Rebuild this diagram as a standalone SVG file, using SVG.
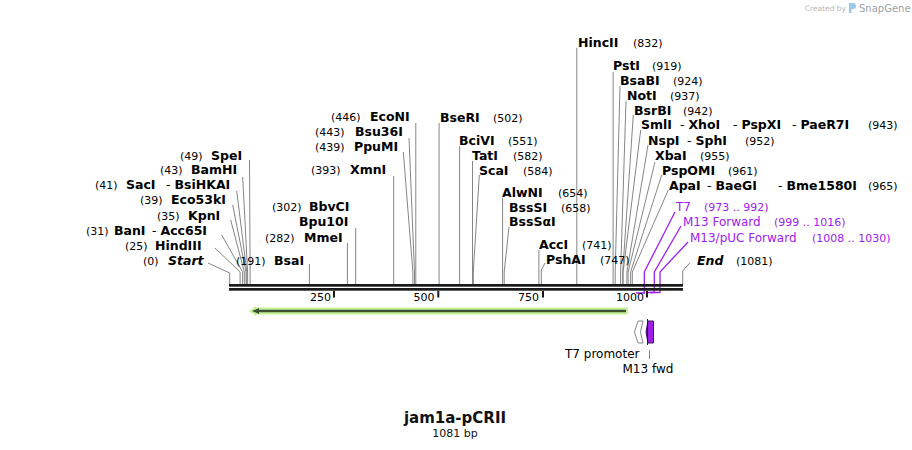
<svg xmlns="http://www.w3.org/2000/svg" width="912" height="450" viewBox="0 0 912 450">
<style>
text{font-family:"DejaVu Sans","Verdana",sans-serif;}
.n{font-size:12.5px;font-weight:bold;fill:#000;}
.h{font-weight:normal;}
.i{font-style:italic;}
.p{font-size:11px;fill:#000;}
.pu{font-size:12px;fill:#a020f0;}
.pn{font-size:11px;fill:#a020f0;}
.c{fill:none;stroke:#858585;stroke-width:1;}
.cp{fill:none;stroke:#a020f0;stroke-width:1.3;}
.t{font-size:11px;fill:#000;text-anchor:end;}
.f{font-size:12px;fill:#000;}
</style>
<rect width="912" height="450" fill="#fff"/>

<g id="connectors">
<polyline class="c" points="249.5,160 250.1,272 250.1,285"/>
<polyline class="c" points="242.7,177 247.6,272 247.6,285"/>
<polyline class="c" points="236.7,191 246.8,272 246.8,285"/>
<polyline class="c" points="232.7,205 246,272 246,285"/>
<polyline class="c" points="230.7,220 244.3,272 244.3,285"/>
<polyline class="c" points="221.7,235 242.6,272 242.6,285"/>
<polyline class="c" points="215,248 240.1,272 240.1,285"/>
<polyline class="c" points="208,263 229.7,273 229.7,285"/>
<polyline class="c" points="309.4,264 309.4,285"/>
<polyline class="c" points="347.4,243 347.4,285"/>
<polyline class="c" points="355.7,228 355.7,285"/>
<polyline class="c" points="393.7,176 393.7,285"/>
<polyline class="c" points="403.3,152 412.9,272 412.9,285"/>
<polyline class="c" points="409,138 414.5,272 414.5,285"/>
<polyline class="c" points="415.8,123 415.8,285"/>
<polyline class="c" points="439.1,123 439.1,285"/>
<polyline class="c" points="459.6,146 459.6,285"/>
<polyline class="c" points="472.5,161 472.5,285"/>
<polyline class="c" points="479.3,175 473.3,272 473.3,285"/>
<polyline class="c" points="502.6,198 502.6,285"/>
<polyline class="c" points="509,227 504.2,272 504.2,285"/>
<polyline class="c" points="538.9,250 538.9,285"/>
<polyline class="c" points="545,263 541.3,270 541.3,285"/>
<polyline class="c" points="576.8,48 576.8,285"/>
<polyline class="c" points="613.1,72 613.1,285"/>
<polyline class="c" points="620,86 615.2,272 615.2,285"/>
<polyline class="c" points="626,101 620.6,272 620.6,285"/>
<polyline class="c" points="633.3,115 622.7,272 622.7,285"/>
<polyline class="c" points="640.7,130 623.1,272 623.1,285"/>
<polyline class="c" points="648,145 626.9,272 626.9,285"/>
<polyline class="c" points="655,162 628.1,272 628.1,285"/>
<polyline class="c" points="661.7,175 630.6,272 630.6,285"/>
<polyline class="c" points="668.3,190 632.3,272 632.3,285"/>
<polyline class="c" points="690,262.7 682.7,271 682.7,285"/>
<polyline class="cp" points="675,212 644.3,272 644.3,293 636,293"/>
<polyline class="cp" points="681,226 654.3,272 654.3,292.5 647.5,292.5"/>
<polyline class="cp" points="688,242 660,272 660,292.5 650,292.5"/>
<line class="c" x1="649.5" y1="350" x2="649.5" y2="359"/>
</g>

<g id="sequence">
<rect x="229" y="284" width="454" height="2.7" fill="#1a1a1a"/>
<rect x="229" y="288" width="454" height="2.7" fill="#1a1a1a"/>
<rect x="333" y="291" width="2" height="6.5" fill="#1a1a1a"/>
<rect x="437.3" y="291" width="2" height="6.5" fill="#1a1a1a"/>
<rect x="542" y="291" width="2" height="6.5" fill="#1a1a1a"/>
<rect x="646" y="291" width="2" height="6.5" fill="#1a1a1a"/>
<text class="t" x="331" y="301">250</text>
<text class="t" x="434.5" y="301">500</text>
<text class="t" x="539" y="301">750</text>
<text class="t" x="644" y="301">1000</text>
</g>

<g id="orf">
<polygon points="249,311 256,306 256,307.5 628,307.5 628,314.5 256,314.5 256,316" fill="#c3f396"/>
<line x1="256" y1="311" x2="626" y2="311" stroke="#3f4f33" stroke-width="2.5"/>
<polygon points="252,311 259,308 259,314" fill="#3f4f33"/>
</g>

<g id="t7promoter">
<polygon points="634.5,332 638,321 643,321 640.5,332 643,343 638,343" fill="#fff" stroke="#8a8a8a" stroke-width="1"/>
<text class="f" x="565" y="357.5">T7 promoter</text>
</g>
<g id="m13fwd">
<polygon points="648,321 653.5,321 653.5,343 648,343 646,332" fill="#9b1fe8" stroke="#3a1060" stroke-width="1"/>
<line x1="647.5" y1="319" x2="647.5" y2="345" stroke="#222" stroke-width="1"/>
<text class="f" x="622.5" y="372.5">M13 fwd</text>
</g>

<g id="SpeI"><text class="p" x="180" y="159.5">(49)</text><text class="n" x="211" y="159.5">SpeI</text></g>
<g id="BamHI"><text class="p" x="160" y="174">(43)</text><text class="n" x="191" y="174">BamHI</text></g>
<g id="SacI"><text class="p" x="95" y="189">(41)</text><text class="n" x="126" y="189">SacI</text><text class="n" x="166" y="189"><tspan class="h">- </tspan>BsiHKAI</text></g>
<g id="Eco53kI"><text class="p" x="140" y="204">(39)</text><text class="n" x="171" y="204">Eco53kI</text></g>
<g id="KpnI"><text class="p" x="157" y="219.5">(35)</text><text class="n" x="188" y="219.5">KpnI</text></g>
<g id="BanI"><text class="p" x="86" y="234.5">(31)</text><text class="n" x="114" y="234.5">BanI</text><text class="n" x="152" y="234.5"><tspan class="h">- </tspan>Acc65I</text></g>
<g id="HindIII"><text class="p" x="125" y="249.5">(25)</text><text class="n" x="155" y="249.5">HindIII</text></g>
<g id="Start"><text class="p" x="143" y="264.5">(0)</text><text class="n i" x="168" y="264.5">Start</text></g>

<g id="BsaI"><text class="p" x="236" y="264.5">(191)</text><text class="n" x="274" y="264.5">BsaI</text></g>
<g id="MmeI"><text class="p" x="265" y="241.5">(282)</text><text class="n" x="304" y="241.5">MmeI</text></g>
<g id="Bpu10I"><text class="n" x="299" y="225.5">Bpu10I</text></g>
<g id="BbvCI"><text class="p" x="272" y="210.5">(302)</text><text class="n" x="309" y="210.5">BbvCI</text></g>
<g id="XmnI"><text class="p" x="311" y="173.5">(393)</text><text class="n" x="350" y="173.5">XmnI</text></g>
<g id="PpuMI"><text class="p" x="315" y="150.5">(439)</text><text class="n" x="354" y="150.5">PpuMI</text></g>
<g id="Bsu36I"><text class="p" x="315" y="135.5">(443)</text><text class="n" x="355" y="135.5">Bsu36I</text></g>
<g id="EcoNI"><text class="p" x="331" y="120.5">(446)</text><text class="n" x="370" y="120.5">EcoNI</text></g>

<g id="BseRI"><text class="n" x="440" y="121.5">BseRI</text><text class="p" x="493" y="121.5">(502)</text></g>
<g id="BciVI"><text class="n" x="459" y="144.5">BciVI</text><text class="p" x="508" y="144.5">(551)</text></g>
<g id="TatI"><text class="n" x="472" y="159.5">TatI</text><text class="p" x="513" y="159.5">(582)</text></g>
<g id="ScaI"><text class="n" x="479" y="174.5">ScaI</text><text class="p" x="523" y="174.5">(584)</text></g>
<g id="AlwNI"><text class="n" x="502" y="196.5">AlwNI</text><text class="p" x="558" y="196.5">(654)</text></g>
<g id="BssSI"><text class="n" x="509" y="211.5">BssSI</text><text class="p" x="561" y="211.5">(658)</text></g>
<g id="BssSaI"><text class="n" x="509" y="225.5">BssSαI</text></g>
<g id="AccI"><text class="n" x="539" y="248.5">AccI</text><text class="p" x="582" y="248.5">(741)</text></g>
<g id="PshAI"><text class="n" x="546" y="263.5">PshAI</text><text class="p" x="600" y="263.5">(747)</text></g>

<g id="HincII"><text class="n" x="578" y="46.5">HincII</text><text class="p" x="633" y="46.5">(832)</text></g>
<g id="PstI"><text class="n" x="613" y="69.5">PstI</text><text class="p" x="652" y="69.5">(919)</text></g>
<g id="BsaBI"><text class="n" x="620" y="84.5">BsaBI</text><text class="p" x="673" y="84.5">(924)</text></g>
<g id="NotI"><text class="n" x="627" y="99.5">NotI</text><text class="p" x="670" y="99.5">(937)</text></g>
<g id="BsrBI"><text class="n" x="634" y="114.5">BsrBI</text><text class="p" x="683" y="114.5">(942)</text></g>
<g id="SmlI"><text class="n" x="641" y="129">SmlI</text><text class="n" x="680" y="129"><tspan class="h">- </tspan>XhoI</text><text class="n" x="733" y="129"><tspan class="h">- </tspan>PspXI</text><text class="n" x="792" y="129"><tspan class="h">- </tspan>PaeR7I</text><text class="p" x="868" y="129">(943)</text></g>
<g id="NspI"><text class="n" x="648" y="144.5">NspI</text><text class="n" x="687" y="144.5"><tspan class="h">- </tspan>SphI</text><text class="p" x="745" y="144.5">(952)</text></g>
<g id="XbaI"><text class="n" x="655" y="159.5">XbaI</text><text class="p" x="700" y="159.5">(955)</text></g>
<g id="PspOMI"><text class="n" x="662" y="174.5">PspOMI</text><text class="p" x="728" y="174.5">(961)</text></g>
<g id="ApaI"><text class="n" x="669" y="189.5">ApaI</text><text class="n" x="707" y="189.5"><tspan class="h">- </tspan>BaeGI</text><text class="n" x="778" y="189.5"><tspan class="h">- </tspan>Bme1580I</text><text class="p" x="868" y="189.5">(965)</text></g>
<g id="T7"><text class="pu" x="676" y="210.5">T7</text><text class="pn" x="704" y="210.5">(973 .. 992)</text></g>
<g id="M13Forward"><text class="pu" x="683" y="225.5">M13 Forward</text><text class="pn" x="774" y="225.5">(999 .. 1016)</text></g>
<g id="M13pUCForward"><text class="pu" x="690" y="241.5">M13/pUC Forward</text><text class="pn" x="812" y="241.5">(1008 .. 1030)</text></g>
<g id="End"><text class="n i" x="697" y="264.5">End</text><text class="p" x="736" y="264.5">(1081)</text></g>

<g id="title">
<text x="455" y="423" text-anchor="middle" font-size="15" font-weight="bold" fill="#111">jam1a-pCRII</text>
<text x="455" y="437" text-anchor="middle" font-size="11" fill="#111">1081 bp</text>
</g>

<g id="credit">
<text x="846" y="10.5" text-anchor="end" font-size="7.5" fill="#b8b8b8">Created by</text>
<path d="M849,3 h4 a3,3 0 0 1 0,6 h-1.5 v4 h-2.5 z" fill="#9cc8ee"/>
<text x="859" y="11.5" font-size="10" fill="#9aa4ae">SnapGene</text>
</g>
</svg>
